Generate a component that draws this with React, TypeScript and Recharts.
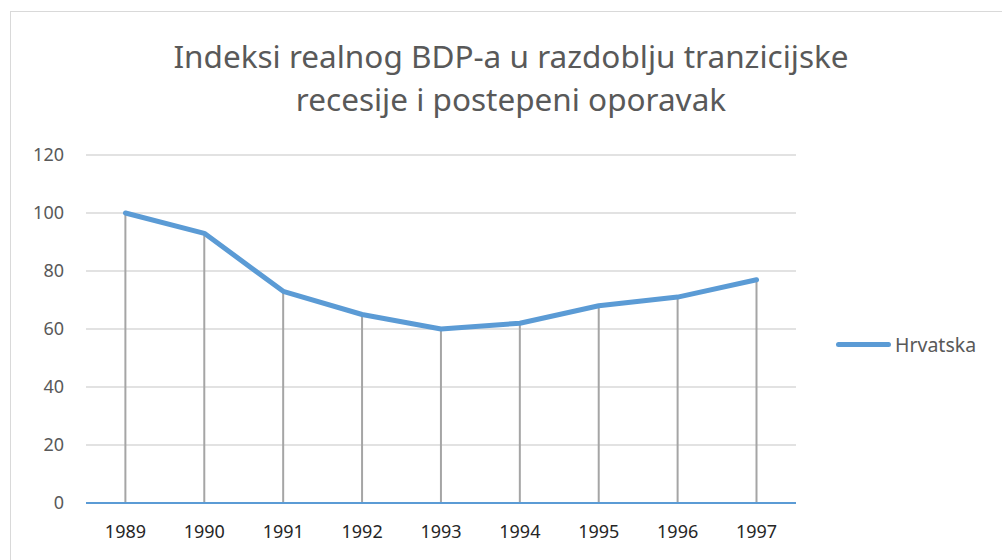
import { ComposedChart, Line, Bar, XAxis, YAxis, CartesianGrid } from 'recharts';

const years = ['1989', '1990', '1991', '1992', '1993', '1994', '1995', '1996', '1997'];
const hrvatska = [100, 93, 73, 65, 60, 62, 68, 71, 77];
const yTicks = [0, 20, 40, 60, 80, 100, 120];

const data = years.map((year, i) => ({ year, hrvatska: hrvatska[i] }));

const FONT = '"Noto Sans", sans-serif';

// vertical drop line from the point down to the axis
const DropLine = (props: any) => {
  const { x, y, width, height } = props;
  const cx = x + width / 2;
  return <line x1={cx} x2={cx} y1={y} y2={y + height} stroke="#A5A5A5" strokeWidth={2} />;
};

export default function App() {
  return (
    <div
      style={{
        position: 'absolute',
        left: 10,
        top: 11,
        width: 1000,
        height: 560,
        borderLeft: '1px solid #D9D9D9',
        borderTop: '1px solid #D9D9D9',
        fontFamily: FONT,
        background: '#fff',
      }}
    >
      <div
        style={{
          position: 'absolute',
          left: 0,
          top: 22,
          width: 1000,
          textAlign: 'center',
          fontSize: 31.5,
          lineHeight: '43px',
          color: '#595959',
        }}
      >
        Indeksi realnog BDP-a u razdoblju tranzicijske
        <br />
        recesije i postepeni oporavak
      </div>
      <ComposedChart
        width={990}
        height={548}
        data={data}
        margin={{ top: 143, right: 205, left: 25, bottom: 27 }}
      >
        <CartesianGrid horizontal vertical={false} stroke="#D9D9D9" strokeWidth={1.5} />
        <XAxis
          dataKey="year"
          axisLine={{ stroke: '#5B9BD5', strokeWidth: 2 }}
          tickLine={false}
          tickSize={0}
          tickMargin={22}
          height={30}
          tick={{ fill: '#262626', fontSize: 18, fontFamily: FONT }}
        />
        <YAxis
          domain={[0, 120]}
          ticks={yTicks}
          axisLine={false}
          tickLine={false}
          tickSize={0}
          tickMargin={22}
          width={50}
          tick={{ fill: '#595959', fontSize: 18, fontFamily: FONT }}
        />
        <Bar dataKey="hrvatska" shape={<DropLine />} isAnimationActive={false} />
        <Line
          dataKey="hrvatska"
          stroke="#5B9BD5"
          strokeWidth={5}
          strokeLinecap="round"
          strokeLinejoin="round"
          dot={false}
          activeDot={false}
          isAnimationActive={false}
        />
      </ComposedChart>
      <div
        style={{
          position: 'absolute',
          left: 825,
          top: 319,
          display: 'flex',
          alignItems: 'center',
          fontSize: 19.5,
          color: '#595959',
        }}
      >
        <span
          style={{
            display: 'inline-block',
            width: 55,
            height: 5,
            borderRadius: 3,
            background: '#5B9BD5',
            marginRight: 4,
          }}
        />
        Hrvatska
      </div>
    </div>
  );
}
